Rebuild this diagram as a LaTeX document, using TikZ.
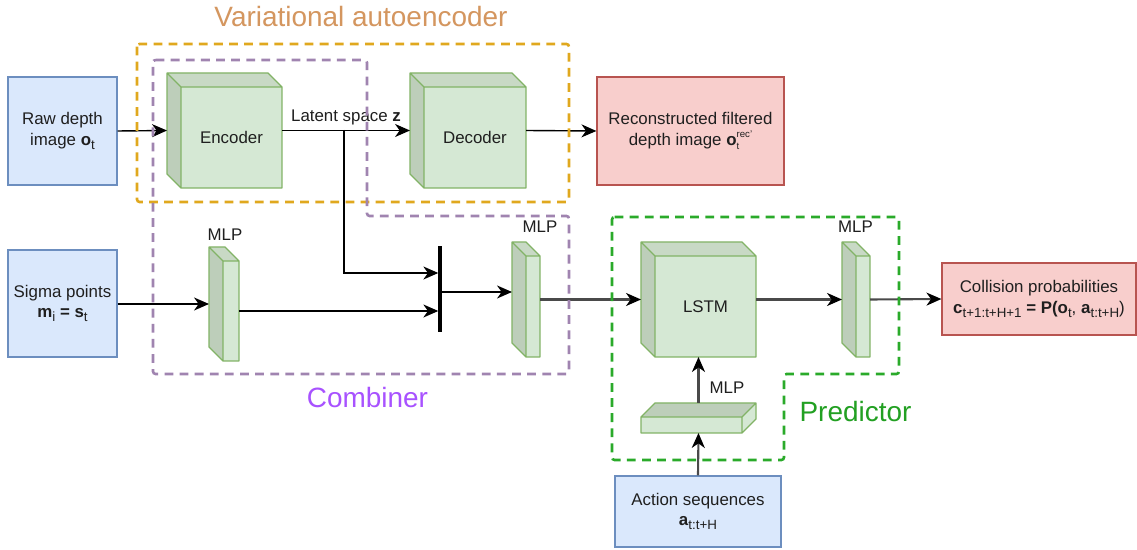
\documentclass[tikz,border=0pt]{standalone}
\usepackage{fontspec}
\setmainfont{Liberation Sans}
\usetikzlibrary{arrows.meta}

\definecolor{inblue}{HTML}{6C8EBF}
\definecolor{infill}{HTML}{DAE8FC}
\definecolor{outred}{HTML}{B85450}
\definecolor{outfill}{HTML}{F8CECC}
\definecolor{cubeln}{HTML}{82B366}
\definecolor{cubefr}{HTML}{D5E8D4}
\definecolor{cubesd}{HTML}{BDCEBA}
\definecolor{cubetp}{HTML}{C8D9C5}
\definecolor{vaeclr}{HTML}{E0A81E}
\definecolor{vaetxt}{HTML}{D4965F}
\definecolor{cmbclr}{HTML}{A084B0}
\definecolor{cmbtxt}{HTML}{A852FF}
\definecolor{prdclr}{HTML}{2AAA2A}
\definecolor{prdtxt}{HTML}{22A022}
\definecolor{flowgray}{HTML}{4A4A4A}

% small subscripts / superscripts in the labels
\newcommand\sbx[1]{\raisebox{-0.45ex}{\fontsize{7.6pt}{8pt}\selectfont #1}}
\newcommand\tinyidx[1]{\fontsize{5.5pt}{6pt}\selectfont #1}

\tikzset{
  txt/.style={font=\fontsize{9.6pt}{11.6pt}\selectfont, text=black!88, align=center},
  inbox/.style={txt, draw=inblue, fill=infill, line width=0.7pt, inner sep=0pt},
  outbox/.style={txt, draw=outred, fill=outfill, line width=0.7pt, inner sep=0pt},
  cubeside/.style={fill=cubesd},
  cubetop/.style={fill=cubetp},
  cubeface/.style={fill=cubefr},
  cubeedge/.style={draw=cubeln, line width=0.7pt, line join=round},
  cubebox/.style={inner sep=0pt, outer sep=0pt},
  region/.style={line width=1.5pt, dash pattern=on 5pt off 3.6pt, rounded corners=1.5pt},
  grouplbl/.style={font=\fontsize{15.9pt}{18pt}\selectfont},
  tip/.style={-{Stealth[length=8.5pt,width=7.4pt,inset=2.6pt,color=black]}},
  arr/.style={line width=0.8pt, draw=black, tip},
  arrg/.style={line width=1.2pt, draw=flowgray, tip},
  joinbar/.style={fill=black, inner sep=0pt, outer sep=0pt, minimum width=0.075cm, minimum height=1.72cm},
}

% cube with its depth towards the upper left: name, x0, y0, x1, y1, depth, text
\newcommand\cubeL[7]{%
  \fill[cubeside] (#2,#3) -- ({#2+#6},{#3+#6}) -- ({#2+#6},#5) -- (#2,{#5-#6}) -- cycle;
  \fill[cubetop] (#2,#3) -- ({#4-#6},#3) -- (#4,{#3+#6}) -- ({#2+#6},{#3+#6}) -- cycle;
  \fill[cubeface] ({#2+#6},{#3+#6}) rectangle (#4,#5);
  \draw[cubeedge] (#2,#3) -- ({#4-#6},#3) -- (#4,{#3+#6}) -- (#4,#5) -- ({#2+#6},#5)
     -- (#2,{#5-#6}) -- cycle
     (#2,#3) -- ({#2+#6},{#3+#6}) -- (#4,{#3+#6})
     ({#2+#6},{#3+#6}) -- ({#2+#6},#5);
  \node[cubebox, minimum width={(#4-#2)*0.02cm}, minimum height={(#5-#3)*0.02cm}]
     (#1) at ({(#2+#4)/2},{(#3+#5)/2}) {};
  \node[txt] (#1-text) at ({(#2+#4+#6)/2},{(#3+#5+#6)/2}) {#7};
}
% flat cube with its depth towards the upper right: name, x0, y0, x1, y1, depth
\newcommand\cubeR[6]{%
  \fill[cubeface] (#2,{#3+#6}) rectangle ({#4-#6},#5);
  \fill[cubeside] (#2,{#3+#6}) -- ({#2+#6},#3) -- (#4,#3) -- ({#4-#6},{#3+#6}) -- cycle;
  \fill[cubeface] ({#4-#6},{#3+#6}) -- (#4,#3) -- (#4,{#5-#6}) -- ({#4-#6},#5) -- cycle;
  \draw[cubeedge] (#2,{#3+#6}) -- ({#2+#6},#3) -- (#4,#3) -- (#4,{#5-#6}) -- ({#4-#6},#5)
     -- (#2,#5) -- cycle
     (#2,{#3+#6}) -- ({#4-#6},{#3+#6}) -- (#4,#3)
     ({#4-#6},{#3+#6}) -- ({#4-#6},#5);
  \node[cubebox, minimum width={(#4-#2)*0.02cm}, minimum height={(#5-#3)*0.02cm}]
     (#1) at ({(#2+#4)/2},{(#3+#5)/2}) {};
}

\begin{document}
\begin{tikzpicture}[x=0.02cm, y=-0.02cm]
\useasboundingbox[fill=white] (0,0) rectangle (1137,550);

% ---- input and output boxes ----
\node[inbox, minimum width=2.18cm, minimum height=2.16cm] (raw) at (62.5,131)
  {Raw depth\\image \textbf{o}\sbx{t}};
\node[outbox, minimum width=3.74cm, minimum height=2.16cm] (rec) at (690.5,131)
  {Reconstructed filtered\\depth image \textbf{o}\rlap{\raisebox{-0.5ex}{\tinyidx{t}}}\raisebox{0.9ex}{\tinyidx{rec'}}};
\node[inbox, minimum width=2.18cm, minimum height=2.14cm] (sig) at (62.5,303.5)
  {Sigma points\\\textbf{m}\sbx{i} \textbf{=} \textbf{s}\sbx{t}};
\node[outbox, minimum width=3.88cm, minimum height=1.44cm] (col) at (1039,299)
  {Collision probabilities\\\textbf{c}\sbx{t+1:t+H+1} \textbf{= P(o}\sbx{t}, \textbf{a}\sbx{t:t+H})};
\node[inbox, minimum width=3.32cm, minimum height=1.42cm] (act) at (698,511.5)
  {Action sequences\\\textbf{a}\sbx{t:t+H}};

% ---- network blocks ----
\cubeL{enc}{167}{73}{282}{188}{14}{Encoder}
\cubeL{dec}{410}{73}{526}{188}{14}{Decoder}
\cubeL{lstm}{641}{242}{756}{357}{14}{LSTM}
\cubeL{mlpa}{209}{247}{239}{361}{14}{}
\cubeL{mlpb}{512}{242}{540}{357}{14}{}
\cubeL{mlpc}{842}{242}{870}{357}{14}{}
\cubeR{mlpd}{641}{403}{756}{433}{14}

\node[txt] (mlpa-lbl) at (225,235) {MLP};
\node[txt] (mlpb-lbl) at (540,227) {MLP};
\node[txt] (mlpc-lbl) at (855.5,227) {MLP};
\node[txt] (mlpd-lbl) at (727,388) {MLP};

% ---- concatenation bar ----
\node[joinbar] (bar) at (440,289) {};
\coordinate (barA) at (438.3,273);
\coordinate (barB) at (438.3,311);
\coordinate (barO) at (441.7,292);
\coordinate (split) at (344,130);

% ---- connections ----
\draw[arr] (raw.east) -- (enc.west);
\draw[arr] (enc.east) -- node[txt, above, inner sep=2.5pt] (latent) {Latent space \textbf{z}} (dec.west);
\draw[arr] (dec.east) -- (rec.west);
\draw[arr] (split) |- (barA);
\draw[arr] (sig.east |- mlpa.west) -- (mlpa.west);
\draw[arr] (mlpa.east |- barB) -- (barB);
\draw[arr] (barO) -- (mlpb.west |- barO);
\draw[arrg] (mlpb.east) -- (lstm.west);
\draw[arrg] (lstm.east) -- (mlpc.west);
\draw[arrg] (mlpc.east) -- (col.west);
\draw[arrg] (act.north) -- (mlpd.south);
\draw[arrg] (mlpd.north) -- (lstm.south -| mlpd.north);

% ---- grouping regions ----
\draw[region, draw=vaeclr] (137,44) rectangle (569,202);
\draw[region, draw=cmbclr] (153,60) -- (367,60) -- (367,216) -- (569,216) -- (569,374)
  -- (153,374) -- cycle;
\draw[region, draw=prdclr] (612,217) -- (899,217) -- (899,374) -- (784,374) -- (784,460)
  -- (612,460) -- cycle;

\node[grouplbl, text=vaetxt] (vae-lbl) at (361,17) {Variational autoencoder};
\node[grouplbl, text=cmbtxt] (cmb-lbl) at (367.5,398) {Combiner};
\node[grouplbl, text=prdtxt] (prd-lbl) at (855.5,412) {Predictor};
\end{tikzpicture}
\end{document}
